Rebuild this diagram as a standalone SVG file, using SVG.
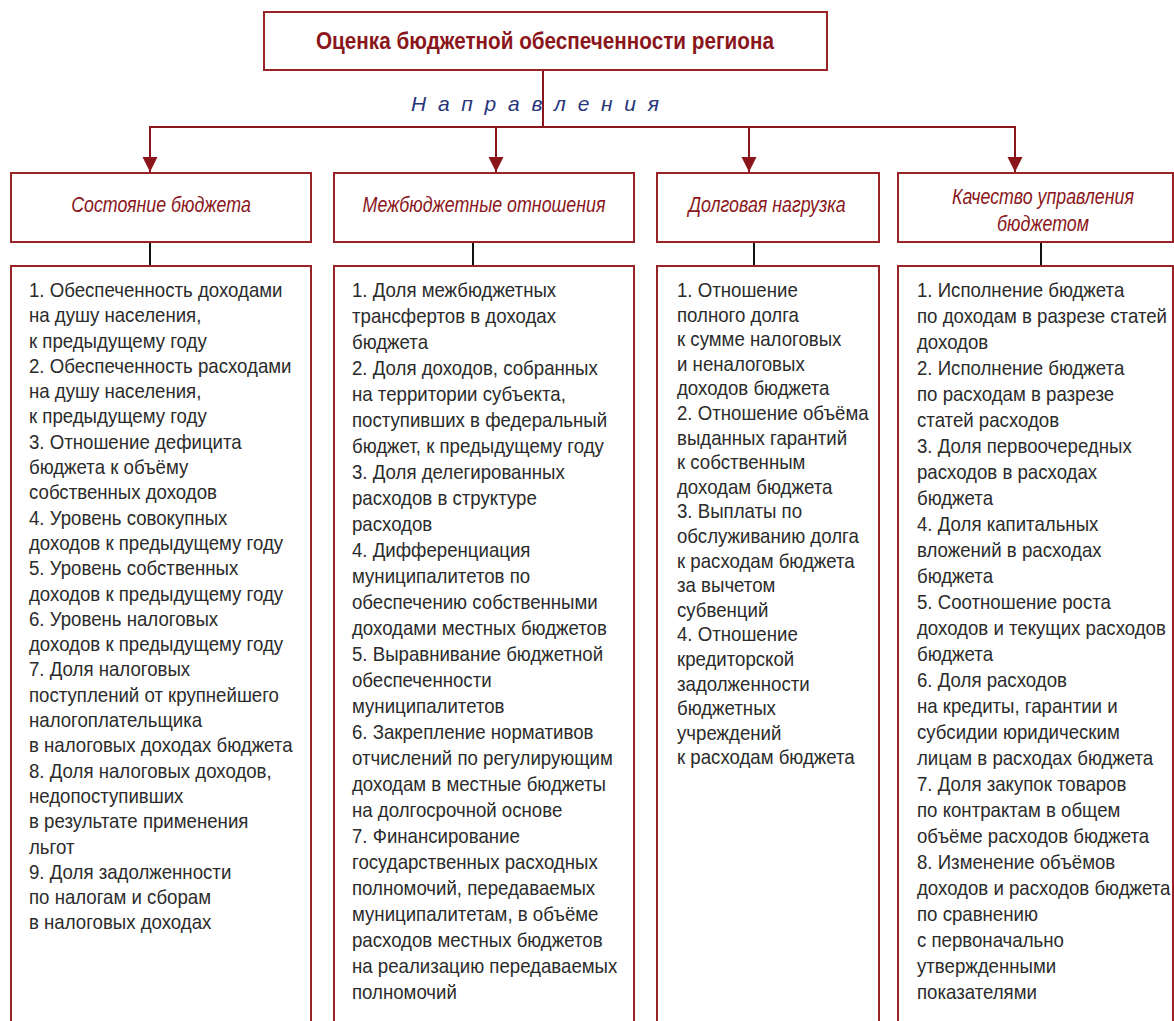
<svg xmlns="http://www.w3.org/2000/svg" width="1174" height="1021" viewBox="0 0 1174 1021">
<style>
.box{fill:#fff;stroke:#9a2328;stroke-width:2}
.conn{stroke:#8a161b;stroke-width:2;fill:none}
.blk{stroke:#111;stroke-width:2;fill:none}
.title{font-family:"Liberation Sans",Arial,sans-serif;font-weight:bold;font-size:23px;fill:#8a161b}
.hdr{font-family:"Liberation Sans",Arial,sans-serif;font-style:italic;font-size:22px;fill:#8a161b}
.dir{font-family:"Liberation Sans",Arial,sans-serif;font-style:italic;font-size:21px;fill:#27357a}
.body{font-family:"Liberation Sans",Arial,sans-serif;font-size:20.5px;fill:#2b2b2b}
</style>
<defs>
<marker id="ah" markerUnits="userSpaceOnUse" markerWidth="16" markerHeight="16" refX="15" refY="7.5" orient="auto">
<path d="M0,0 L15,7.5 L0,15 z" fill="#8a161b"/>
</marker>
</defs>
<g id="connectors">
<line class="conn" x1="543" y1="70" x2="543" y2="127"/>
<line class="conn" x1="150" y1="127" x2="1016" y2="127"/>
<line class="conn" x1="150" y1="126" x2="150" y2="172" marker-end="url(#ah)"/>
<line class="conn" x1="496" y1="126" x2="496" y2="172" marker-end="url(#ah)"/>
<line class="conn" x1="749" y1="126" x2="749" y2="172" marker-end="url(#ah)"/>
<line class="conn" x1="1015" y1="126" x2="1015" y2="172" marker-end="url(#ah)"/>
<line class="blk" x1="150" y1="243" x2="150" y2="266"/>
<line class="blk" x1="473" y1="243" x2="473" y2="266"/>
<line class="blk" x1="754" y1="243" x2="754" y2="266"/>
<line class="blk" x1="1041" y1="243" x2="1041" y2="266"/>
</g>
<g id="title">
<rect class="box" x="264" y="12" width="563" height="58"/>
<text class="title" x="545" y="49" text-anchor="middle" textLength="458" lengthAdjust="spacingAndGlyphs">Оценка бюджетной обеспеченности региона</text>
</g>
<g id="directions">
<text class="dir" x="535" y="111" text-anchor="middle" textLength="248" lengthAdjust="spacing">Н а п р а в л е н и я</text>
</g>
<g id="hdr1">
<rect class="box" x="11" y="173" width="300" height="69"/>
<g transform="translate(161,212) scale(0.81,1)"><text class="hdr" x="0" y="0" text-anchor="middle">Состояние бюджета</text></g>
</g>
<g id="hdr2">
<rect class="box" x="334" y="173" width="300" height="69"/>
<g transform="translate(484,212) scale(0.81,1)"><text class="hdr" x="0" y="0" text-anchor="middle">Межбюджетные отношения</text></g>
</g>
<g id="hdr3">
<rect class="box" x="657" y="173" width="222" height="69"/>
<g transform="translate(767,212) scale(0.81,1)"><text class="hdr" x="0" y="0" text-anchor="middle">Долговая нагрузка</text></g>
</g>
<g id="hdr4">
<rect class="box" x="898" y="173" width="275" height="69"/>
<g transform="translate(1043,204) scale(0.81,1)"><text class="hdr" x="0" y="0" text-anchor="middle">Качество управления</text></g>
<g transform="translate(1043,231) scale(0.81,1)"><text class="hdr" x="0" y="0" text-anchor="middle">бюджетом</text></g>
</g>
<g id="col1">
<rect class="box" x="11" y="266" width="300" height="770"/>
<g transform="translate(29,297) scale(0.91,1)">
<text class="body">
<tspan x="0" y="0">1. Обеспеченность доходами</tspan>
<tspan x="0" dy="25.3">на душу населения,</tspan>
<tspan x="0" dy="25.3">к предыдущему году</tspan>
<tspan x="0" dy="25.3">2. Обеспеченность расходами</tspan>
<tspan x="0" dy="25.3">на душу населения,</tspan>
<tspan x="0" dy="25.3">к предыдущему году</tspan>
<tspan x="0" dy="25.3">3. Отношение дефицита</tspan>
<tspan x="0" dy="25.3">бюджета к объёму</tspan>
<tspan x="0" dy="25.3">собственных доходов</tspan>
<tspan x="0" dy="25.3">4. Уровень совокупных</tspan>
<tspan x="0" dy="25.3">доходов к предыдущему году</tspan>
<tspan x="0" dy="25.3">5. Уровень собственных</tspan>
<tspan x="0" dy="25.3">доходов к предыдущему году</tspan>
<tspan x="0" dy="25.3">6. Уровень налоговых</tspan>
<tspan x="0" dy="25.3">доходов к предыдущему году</tspan>
<tspan x="0" dy="25.3">7. Доля налоговых</tspan>
<tspan x="0" dy="25.3">поступлений от крупнейшего</tspan>
<tspan x="0" dy="25.3">налогоплательщика</tspan>
<tspan x="0" dy="25.3">в налоговых доходах бюджета</tspan>
<tspan x="0" dy="25.3">8. Доля налоговых доходов,</tspan>
<tspan x="0" dy="25.3">недопоступивших</tspan>
<tspan x="0" dy="25.3">в результате применения</tspan>
<tspan x="0" dy="25.3">льгот</tspan>
<tspan x="0" dy="25.3">9. Доля задолженности</tspan>
<tspan x="0" dy="25.3">по налогам и сборам</tspan>
<tspan x="0" dy="25.3">в налоговых доходах</tspan>
</text>
</g>
</g>
<g id="col2">
<rect class="box" x="334" y="266" width="300" height="770"/>
<g transform="translate(352,297) scale(0.91,1)">
<text class="body">
<tspan x="0" y="0">1. Доля межбюджетных</tspan>
<tspan x="0" dy="26">трансфертов в доходах</tspan>
<tspan x="0" dy="26">бюджета</tspan>
<tspan x="0" dy="26">2. Доля доходов, собранных</tspan>
<tspan x="0" dy="26">на территории субъекта,</tspan>
<tspan x="0" dy="26">поступивших в федеральный</tspan>
<tspan x="0" dy="26">бюджет, к предыдущему году</tspan>
<tspan x="0" dy="26">3. Доля делегированных</tspan>
<tspan x="0" dy="26">расходов в структуре</tspan>
<tspan x="0" dy="26">расходов</tspan>
<tspan x="0" dy="26">4. Дифференциация</tspan>
<tspan x="0" dy="26">муниципалитетов по</tspan>
<tspan x="0" dy="26">обеспечению собственными</tspan>
<tspan x="0" dy="26">доходами местных бюджетов</tspan>
<tspan x="0" dy="26">5. Выравнивание бюджетной</tspan>
<tspan x="0" dy="26">обеспеченности</tspan>
<tspan x="0" dy="26">муниципалитетов</tspan>
<tspan x="0" dy="26">6. Закрепление нормативов</tspan>
<tspan x="0" dy="26">отчислений по регулирующим</tspan>
<tspan x="0" dy="26">доходам в местные бюджеты</tspan>
<tspan x="0" dy="26">на долгосрочной основе</tspan>
<tspan x="0" dy="26">7. Финансирование</tspan>
<tspan x="0" dy="26">государственных расходных</tspan>
<tspan x="0" dy="26">полномочий, передаваемых</tspan>
<tspan x="0" dy="26">муниципалитетам, в объёме</tspan>
<tspan x="0" dy="26">расходов местных бюджетов</tspan>
<tspan x="0" dy="26">на реализацию передаваемых</tspan>
<tspan x="0" dy="26">полномочий</tspan>
</text>
</g>
</g>
<g id="col3">
<rect class="box" x="657" y="266" width="222" height="770"/>
<g transform="translate(677,297) scale(0.91,1)">
<text class="body">
<tspan x="0" y="0">1. Отношение</tspan>
<tspan x="0" dy="24.6">полного долга</tspan>
<tspan x="0" dy="24.6">к сумме налоговых</tspan>
<tspan x="0" dy="24.6">и неналоговых</tspan>
<tspan x="0" dy="24.6">доходов бюджета</tspan>
<tspan x="0" dy="24.6">2. Отношение объёма</tspan>
<tspan x="0" dy="24.6">выданных гарантий</tspan>
<tspan x="0" dy="24.6">к собственным</tspan>
<tspan x="0" dy="24.6">доходам бюджета</tspan>
<tspan x="0" dy="24.6">3. Выплаты по</tspan>
<tspan x="0" dy="24.6">обслуживанию долга</tspan>
<tspan x="0" dy="24.6">к расходам бюджета</tspan>
<tspan x="0" dy="24.6">за вычетом</tspan>
<tspan x="0" dy="24.6">субвенций</tspan>
<tspan x="0" dy="24.6">4. Отношение</tspan>
<tspan x="0" dy="24.6">кредиторской</tspan>
<tspan x="0" dy="24.6">задолженности</tspan>
<tspan x="0" dy="24.6">бюджетных</tspan>
<tspan x="0" dy="24.6">учреждений</tspan>
<tspan x="0" dy="24.6">к расходам бюджета</tspan>
</text>
</g>
</g>
<g id="col4">
<rect class="box" x="898" y="266" width="275" height="770"/>
<g transform="translate(917,297) scale(0.91,1)">
<text class="body">
<tspan x="0" y="0">1. Исполнение бюджета</tspan>
<tspan x="0" dy="26">по доходам в разрезе статей</tspan>
<tspan x="0" dy="26">доходов</tspan>
<tspan x="0" dy="26">2. Исполнение бюджета</tspan>
<tspan x="0" dy="26">по расходам в разрезе</tspan>
<tspan x="0" dy="26">статей расходов</tspan>
<tspan x="0" dy="26">3. Доля первоочередных</tspan>
<tspan x="0" dy="26">расходов в расходах</tspan>
<tspan x="0" dy="26">бюджета</tspan>
<tspan x="0" dy="26">4. Доля капитальных</tspan>
<tspan x="0" dy="26">вложений в расходах</tspan>
<tspan x="0" dy="26">бюджета</tspan>
<tspan x="0" dy="26">5. Соотношение роста</tspan>
<tspan x="0" dy="26">доходов и текущих расходов</tspan>
<tspan x="0" dy="26">бюджета</tspan>
<tspan x="0" dy="26">6. Доля расходов</tspan>
<tspan x="0" dy="26">на кредиты, гарантии и</tspan>
<tspan x="0" dy="26">субсидии юридическим</tspan>
<tspan x="0" dy="26">лицам в расходах бюджета</tspan>
<tspan x="0" dy="26">7. Доля закупок товаров</tspan>
<tspan x="0" dy="26">по контрактам в общем</tspan>
<tspan x="0" dy="26">объёме расходов бюджета</tspan>
<tspan x="0" dy="26">8. Изменение объёмов</tspan>
<tspan x="0" dy="26">доходов и расходов бюджета</tspan>
<tspan x="0" dy="26">по сравнению</tspan>
<tspan x="0" dy="26">с первоначально</tspan>
<tspan x="0" dy="26">утвержденными</tspan>
<tspan x="0" dy="26">показателями</tspan>
</text>
</g>
</g>
</svg>
